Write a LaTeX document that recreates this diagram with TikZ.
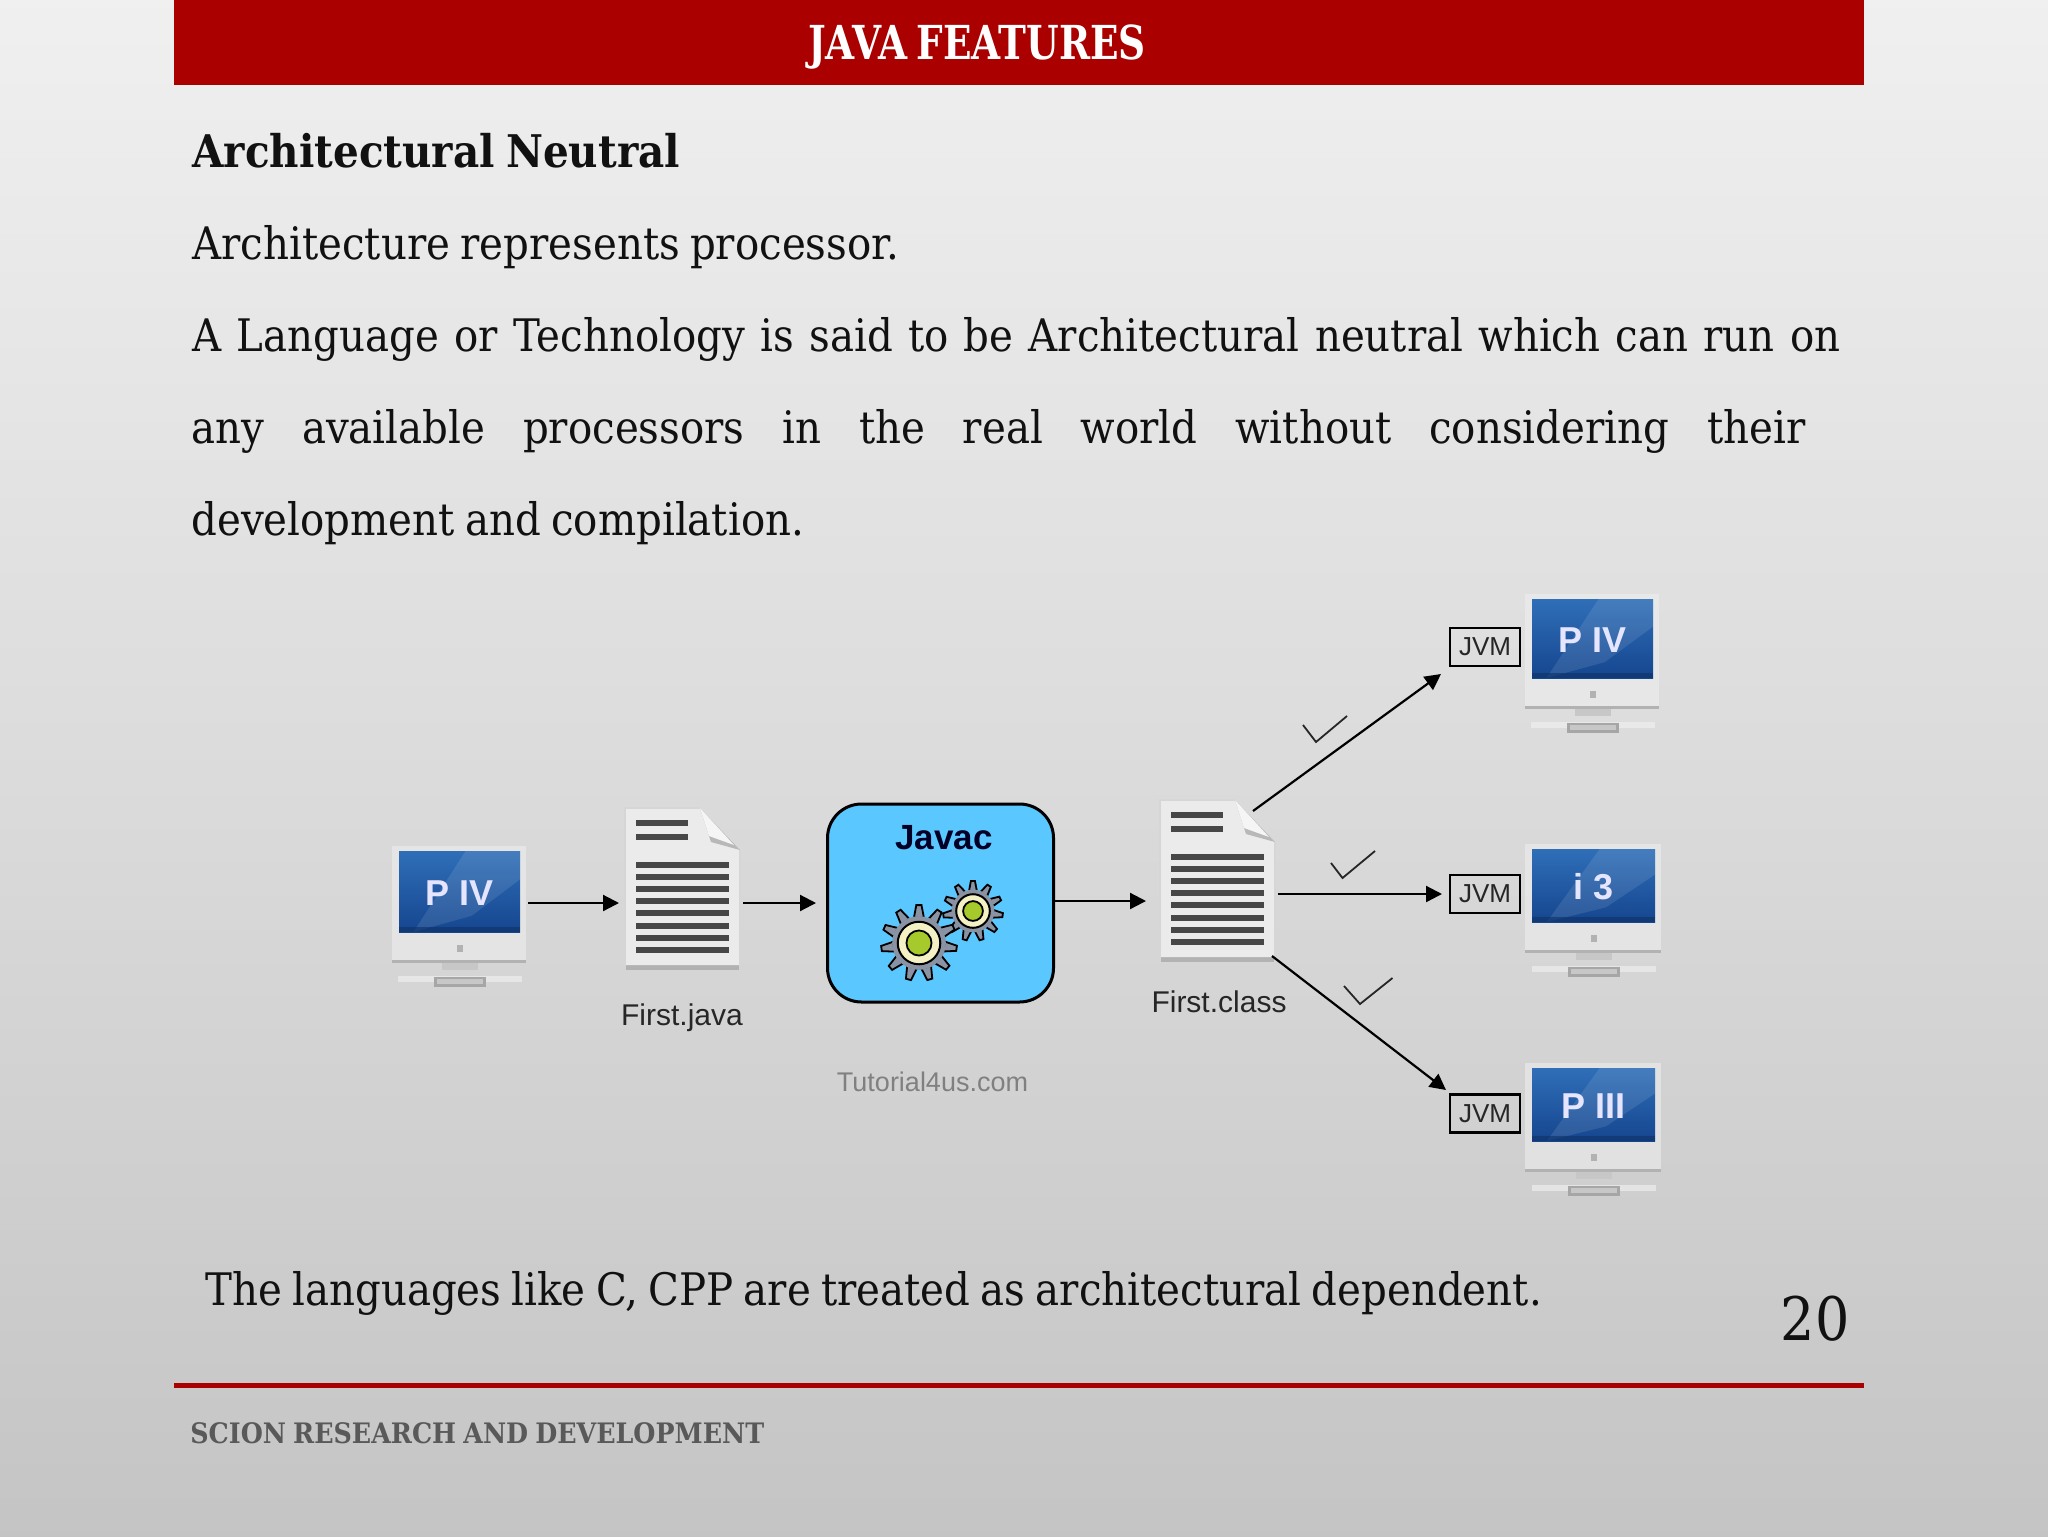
\documentclass[tikz,border=0pt]{standalone}
\usepackage{fontspec}
\usetikzlibrary{arrows.meta,shadings}
\setmainfont{DejaVu Serif}[FakeStretch=0.9,WordSpace=0.8]
\newfontfamily\titlef{DejaVu Serif}[FakeStretch=0.8,WordSpace=0.7]
\newfontfamily\arialf{Liberation Sans}
\definecolor{hdrred}{HTML}{AA0000}
\definecolor{skyb}{HTML}{5AC8FF}
\definecolor{bodyt}{HTML}{111111}
\definecolor{scrtop}{HTML}{2F6FB8}
\definecolor{scrbot}{HTML}{15468F}
\definecolor{gearteeth}{HTML}{8A93A3}
\definecolor{gearring}{HTML}{F4F1C4}
\definecolor{gearhub}{HTML}{A6C92B}
\tikzset{
 bodytext/.style={anchor=base west,inner sep=0pt,font=\fontsize{22.4}{26}\selectfont,text=bodyt},
 imglabel/.style={inner sep=0pt,font=\arialf\fontsize{15}{18}\selectfont,text=black!85},
 jvmbox/.style={draw=black,line width=1.2pt,fill=none,minimum width=35pt,minimum height=19pt,inner sep=0pt,font=\arialf\fontsize{13}{15}\selectfont,text=black!85},
 arr/.style={draw=black,line width=1.1pt,-{Triangle[length=8pt,width=8pt]}},
 tick/.style={draw=black!85,line width=.9pt},
 screenlabel/.style={inner sep=0pt,text=white!90!blue,font=\arialf\bfseries\fontsize{18}{20}\selectfont},
}
% #1 name, #2 left, #3 top, #4 width, #5 height, #6 label
\newcommand\monitoricon[6]{%
 \begin{scope}[shift={(#2,#3)}]
  \fill[black!6,opacity=.55] (-7,-5) rectangle (#4+6,#5+30);
  \fill[black!30] (-7,#5+28) rectangle (#4+6,#5+31);
  \fill[black!22] (#4/2-18,#5+31) rectangle (#4/2+18,#5+38);
  \fill[black!5,opacity=.6] (#4/2-62,#5+44) rectangle (#4/2+62,#5+50);
  \fill[black!35] (#4/2-26,#5+45) rectangle (#4/2+26,#5+55);
  \fill[black!22] (#4/2-23,#5+47) rectangle (#4/2+23,#5+52);
  \fill[black!30] (#4/2-3,#5+13) rectangle (#4/2+3,#5+20);
  \shade[top color=scrtop,bottom color=scrbot] (0,0) rectangle (#4,#5);
  \fill[white,opacity=.10] (#4*.12,#5) -- (#4*.55,0) -- (#4,0) -- (#4,#5*.35) -- (#4*.6,#5*.8) -- cycle;
  \fill[scrbot!70!black,opacity=.6] (0,#5-5) rectangle (#4,#5);
  \node[screenlabel] (#1) at (#4/2,#5*.52) {#6};
 \end{scope}}
% #1 left, #2 top
\newcommand\docicon[2]{%
 \begin{scope}[shift={(#1,#2)}]
  \fill[black!30] (1,157) rectangle (114,162);
  \fill[black!8] (0,0) -- (75,0) -- (115,42) -- (115,157) -- (0,157) -- cycle;
  \draw[black!16,line width=.8pt] (0,157) -- (0,0) -- (75,0) (115,42) -- (115,157);
  \fill[black!28] (75,0) -- (115,42) -- (86,34) -- cycle;
  \fill[black!4] (75,0) -- (109,37) -- (84,28) -- cycle;
  \foreach \yy in {15,29} \fill[black!72] (11,\yy-3) rectangle (63,\yy+3);
  \foreach \nn in {0,...,7} \fill[black!72] (11,57+12.1*\nn-3) rectangle (104,57+12.1*\nn+3);
 \end{scope}}
% #1 cx, #2 cy, #3 outer radius, #4 teeth
\newcommand\gearicon[4]{%
 \begin{scope}[shift={(#1,#2)}]
  \pgfmathsetmacro\ra{#3*.68}
  \pgfmathsetmacro\dd{360/#4}
  \foreach \nn in {1,...,#4}{
   \pgfmathsetmacro\aa{\nn*\dd+8}
   \filldraw[fill=gearteeth,draw=black,line width=.9pt]
     ({\aa-\dd*.34}:\ra) -- ({\aa-\dd*.12}:#3) -- ({\aa+\dd*.12}:#3) -- ({\aa+\dd*.34}:\ra) -- cycle;}
  \fill[gearteeth] (0,0) circle (\ra+1);
  \filldraw[fill=gearring,draw=black,line width=1pt] (0,0) circle (#3*.56);
  \filldraw[fill=gearhub,draw=black,line width=.9pt] (0,0) circle (#3*.33);
 \end{scope}}
\begin{document}
\begin{tikzpicture}[x=0.5pt,y=-0.5pt]
\useasboundingbox (0,0) rectangle (2048,1536);
\shade[top color=white!94!black,bottom color=black!23,middle color=black!14] (0,0) rectangle (2048,1536);
% header
\fill[hdrred] (174,0) rectangle (1864,85);
\node[inner sep=0pt,text=white,font=\titlef\bfseries\fontsize{23.4}{26}\selectfont] (title) at (977,47) {JAVA FEATURES};
% text
\node[bodytext,font=\bfseries\fontsize{22.5}{26}\selectfont] (t1) at (192,167) {Architectural Neutral};
\node[bodytext] (t2) at (192,259) {Architecture represents processor.};
\node[bodytext] (t3) at (192,351) {\makebox[824pt][s]{A Language or Technology is said to be Architectural neutral which can run on}};
\node[bodytext] (t4) at (191,443) {\makebox[807pt][s]{any available processors in the real world without considering their}};
\node[bodytext] (t5) at (191,535) {development and compilation.};
% left monitor and docs
\monitoricon{ml1}{399}{851}{121}{81}{P IV}
\docicon{625}{808}
\node[imglabel] (fj) at (682,1018) {First.java};
\node[draw=black,line width=1.5pt,fill=skyb,rounded corners=17pt,minimum width=113pt,minimum height=99pt,inner sep=0pt] (javac) at (940.5,903) {};
\node[inner sep=0pt,font=\arialf\bfseries\fontsize{17.5}{20}\selectfont,text=black!85!blue] (jt) at (944,838) {Javac};
\gearicon{973}{911}{30}{11}
\gearicon{919}{943}{38}{11}
\node[inner sep=0pt,font=\arialf\fontsize{13.5}{16}\selectfont,text=black!50] (wm) at (932.5,1082) {Tutorial4us.com};
\docicon{1160}{800}
\node[imglabel] (fc) at (1219,1002) {First.class};
% right monitors
\monitoricon{m2}{1532}{599}{121}{79}{P IV}
\monitoricon{m3}{1532}{849}{123}{73}{i 3}
\monitoricon{m4}{1532}{1068}{123}{73}{P III}
\node[jvmbox] (j1) at (1485,647) {JVM};
\node[jvmbox] (j2) at (1485,894) {JVM};
\node[jvmbox] (j3) at (1485,1113.5) {JVM};
% connector ends
\coordinate (a1s) at (528,903); \coordinate (a1e) at (619,903);
\coordinate (a2s) at (743,903); \coordinate (a2e) at (816,903);
\coordinate (a3s) at (1055,901); \coordinate (a3e) at (1146,901);
\coordinate (b1s) at (1253,811); \coordinate (b1e) at (1441,674);
\coordinate (b2s) at (1278,894); \coordinate (b2e) at (1442,894);
\coordinate (b3s) at (1272,956); \coordinate (b3e) at (1446,1090);
\draw[arr] (a1s) -- (a1e);
\draw[arr] (a2s) -- (a2e);
\draw[arr] (a3s) -- (a3e);
\draw[arr] (b1s) -- (b1e);
\draw[arr] (b2s) -- (b2e);
\draw[arr] (b3s) -- (b3e);
% ticks
\draw[tick] (1303,725) -- (1316,742) -- (1347,716);
\draw[tick] (1331,863) -- (1342.5,878) -- (1375,851);
\draw[tick] (1344,986) -- (1360,1004) -- (1392.5,978);
% bottom
\node[bodytext] (t6) at (205,1305) {The languages like C, CPP are treated as architectural dependent.};
\node[anchor=base east,inner sep=0pt,text=bodyt,font=\fontsize{30}{33}\selectfont] (pg) at (1850,1340) {20};
\draw[hdrred,line width=2.5pt] (174,1385) -- (1864,1385);
\node[anchor=base west,inner sep=0pt,text=black!65,font=\bfseries\fontsize{14.1}{16}\selectfont] (ft) at (190,1443) {SCION RESEARCH AND DEVELOPMENT};
\end{tikzpicture}
\end{document}
